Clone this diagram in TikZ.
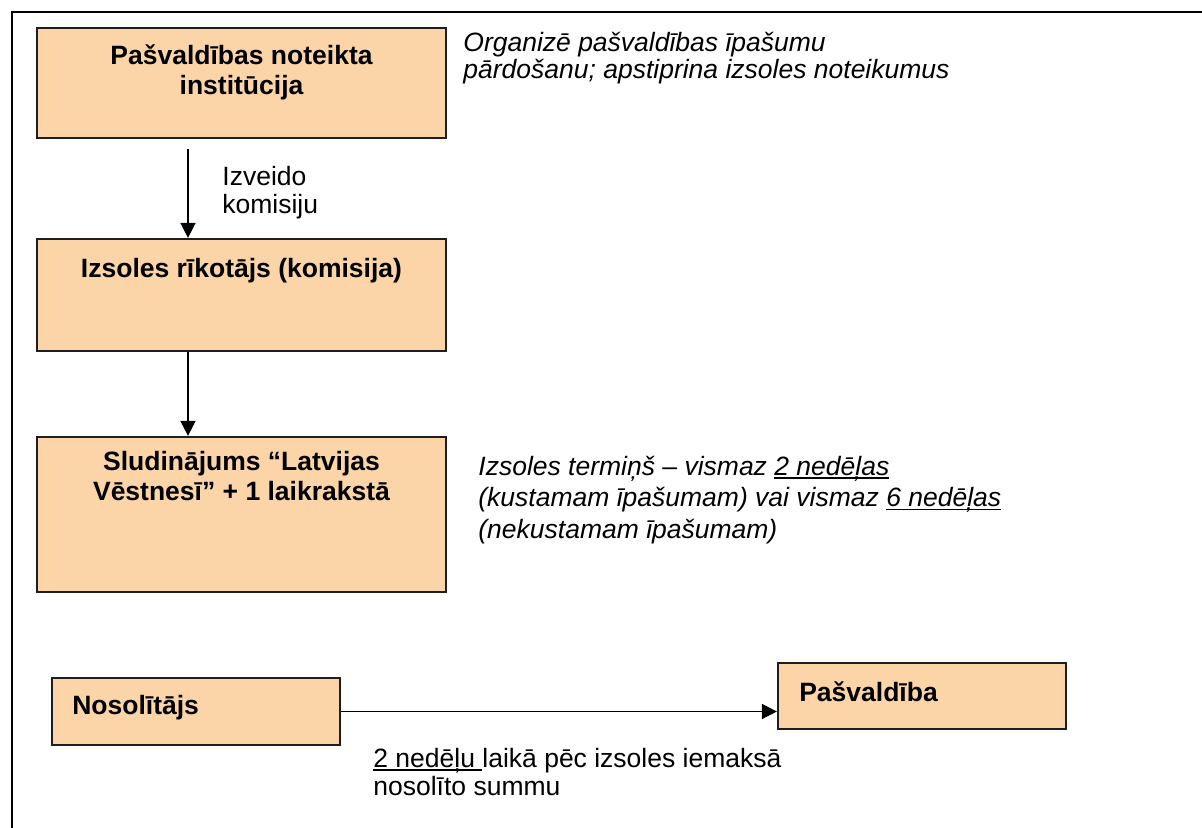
\documentclass[tikz,border=0pt]{standalone}
\usepackage{fontspec}
\setmainfont{Liberation Sans}
\usetikzlibrary{arrows.meta,positioning}
\newsavebox{\ulbox}
\newcommand{\ulin}[1]{\sbox{\ulbox}{#1}\rlap{\rule[-1.7pt]{\wd\ulbox}{0.7pt}}\usebox{\ulbox}}
\definecolor{cBox}{HTML}{FBD5A8}
\definecolor{cEdge}{HTML}{1E1E1E}
\definecolor{cInk}{HTML}{000000}
\tikzset{
  flow/.style={-{Triangle[length=7.5pt,width=7.5pt]},line width=0.75pt,draw=cInk},
  box/.style={draw=cEdge,fill=cBox,line width=1.1pt,inner sep=0pt},
  boxtitle/.style={font=\fontsize{13.25}{15}\selectfont\bfseries,align=center,
                   inner sep=0pt,text=cInk},
  note/.style={font=\fontsize{13.25}{#1}\selectfont\itshape,align=left,
               inner sep=0pt,text=cInk},
  note/.default=15pt,
  remark/.style={font=\fontsize{13.25}{#1}\selectfont,align=left,
                 inner sep=0pt,text=cInk},
  remark/.default=14pt,
  frame/.style={line width=1pt,draw=cInk}
}

\begin{document}
\begin{tikzpicture}[x=0.5pt,y=-0.5pt]
  \useasboundingbox (0,0) rectangle (1202,828);
  \draw[frame] (12,900) |- (1300,12);

  % Left column: who organises the auction.
  \node[box,minimum width=204.5pt,minimum height=55pt,
        label={[boxtitle,anchor=center,yshift=-22.5pt]north:Pašvaldības noteikta\\institūcija}]
        (inst) at (241.5,83) {};
  \node[box,minimum width=204.5pt,minimum height=56pt,
        label={[boxtitle,anchor=center,yshift=-16.5pt]north:Izsoles rīkotājs (komisija)}]
        (kom) at (241.5,295) {};
  \node[box,minimum width=204.5pt,minimum height=77.5pt,
        label={[boxtitle,anchor=center,yshift=-20pt]north:Sludinājums “Latvijas\\Vēstnesī” + 1 laikrakstā}]
        (sludin) at (241.5,514.5) {};

  \coordinate (col) at (188,0);
  \draw[flow,shorten <=5pt] (inst.south -| col) -- (kom.north -| col);
  \draw[flow] (kom.south -| col) -- (sludin.north -| col);
  \node[remark,anchor=west] (izv) at (222,193) {Izveido\\komisiju};

  \node[note=13.5pt,anchor=west] (org) at (463,58)
    {Organizē pašvaldības īpašumu\\pārdošanu; apstiprina izsoles noteikumus};
  \node[note=15.75pt,anchor=west] (term) at (478,500)
    {Izsoles termiņš – vismaz \ulin{2 nedēļas}\\(kustamam īpašumam) vai vismaz \ulin{6 nedēļas}\\(nekustamam īpašumam)};

  % Bottom: payment after the auction.
  \node[box,minimum width=144pt,minimum height=33.5pt,
        label={[boxtitle,anchor=west,xshift=10.5pt,yshift=1.75pt]west:Nosolītājs}]
        (nos) at (196,711.5) {};
  \node[box,minimum width=144pt,minimum height=33pt,
        label={[boxtitle,anchor=west,xshift=11pt,yshift=2pt]west:Pašvaldība}]
        (pasv) at (922,696) {};
  \draw[flow] (nos.east) -- (nos.east -| pasv.west);
  \node[remark,anchor=west] (iemaksa) at (373,772)
    {\ulin{2 nedēļu\ }laikā pēc izsoles iemaksā\\nosolīto summu};
\end{tikzpicture}
\end{document}
